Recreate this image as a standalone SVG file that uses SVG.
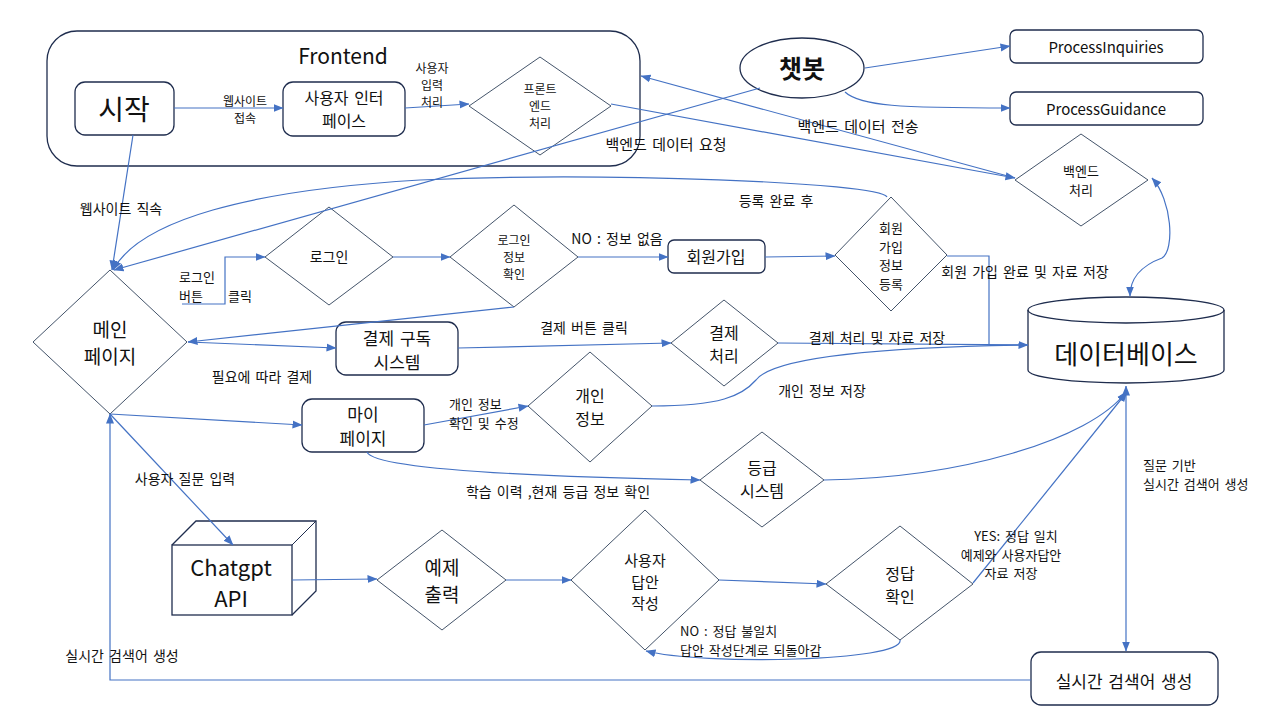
<svg xmlns="http://www.w3.org/2000/svg" width="1280" height="720" viewBox="0 0 1280 720">
<defs>
<marker id="a" viewBox="0 0 10 10" refX="9.5" refY="5" markerWidth="10" markerHeight="10" orient="auto-start-reverse" markerUnits="userSpaceOnUse"><path d="M0,1 L10,5 L0,9z" fill="#4472C4"/></marker>
</defs>
<style>
text{font-family:"Noto Sans CJK KR","Noto Sans",sans-serif;fill:#111;text-anchor:middle;dominant-baseline:central}
.box{fill:#fff;stroke:#1F2D4E;stroke-width:1.3}
.dia{fill:#fff;stroke:#44546A;stroke-width:1}
.c{fill:none;stroke:#4472C4;stroke-width:1.2}
.ar{marker-end:url(#a)}
.l{font-size:14px;word-spacing:2px}
.m{font-size:13px;word-spacing:2px}
.s{font-size:13px}
.t{font-size:12px}
.lt{text-anchor:start}
</style>
<rect width="1280" height="720" fill="#fff"/>

<g id="frontend">
<rect class="box" x="47" y="31" width="593" height="135" rx="30"/>
<text x="343" y="55" font-size="21">Frontend</text>
</g>
<g id="start"><rect class="box" x="75" y="82" width="99" height="53" rx="10"/><text x="124" y="108" font-size="28">시작</text></g>
<g id="ui"><rect class="box" x="283" y="82" width="122" height="54" rx="10"/><text x="344" y="97" font-size="16" word-spacing="2"><tspan x="344" dy="0">사용자 인터</tspan><tspan x="344" dy="23">페이스</tspan></text></g>
<g id="fe"><polygon class="dia" points="540,57 611,106 540,155 469,106"/><text class="t" x="540" y="88"><tspan x="540" dy="0">프론트</tspan><tspan x="540" dy="17">엔드</tspan><tspan x="540" dy="17">처리</tspan></text></g>
<g id="chatbot"><ellipse class="box" cx="802" cy="68" rx="62" ry="30"/><text x="802" y="67" font-size="25" font-weight="bold">챗봇</text></g>
<g id="pi"><rect class="box" x="1010" y="30" width="193" height="33" rx="6"/><text x="1106" y="46" font-size="15">ProcessInquiries</text></g>
<g id="pg"><rect class="box" x="1010" y="92" width="193" height="33" rx="6"/><text x="1106" y="108" font-size="15">ProcessGuidance</text></g>
<g id="be"><polygon class="dia" points="1081,134 1148,180 1081,226 1015,180"/><text class="s" x="1081" y="170"><tspan x="1081" dy="0">백엔드</tspan><tspan x="1081" dy="19">처리</tspan></text></g>
<g id="main"><polygon class="dia" points="110,270 187,342 110,414 33,342"/><text x="110" y="328" font-size="19"><tspan x="110" dy="0">메인</tspan><tspan x="110" dy="27">페이지</tspan></text></g>
<g id="login"><polygon class="dia" points="329,207 393,257 329,305 265,257"/><text class="l" x="329" y="256">로그인</text></g>
<g id="logincheck"><polygon class="dia" points="514,205 578,257 514,307 450,257"/><text class="t" x="514" y="239"><tspan x="514" dy="0">로그인</tspan><tspan x="514" dy="17">정보</tspan><tspan x="514" dy="17">확인</tspan></text></g>
<g id="signup"><rect class="box" x="668" y="240" width="97" height="33" rx="6"/><text x="716" y="256" font-size="16">회원가입</text></g>
<g id="reg"><polygon class="dia" points="891,197 947,255 891,311 835,255"/><text class="s" x="891" y="227"><tspan x="891" dy="0">회원</tspan><tspan x="891" dy="18.5">가입</tspan><tspan x="891" dy="18.5">정보</tspan><tspan x="891" dy="18.5">등록</tspan></text></g>
<g id="db"><path class="box" d="M1028,310 A98,13 0 0 1 1224,310 L1224,370 A98,13 0 0 1 1028,370 Z"/><path fill="none" stroke="#1F2D4E" stroke-width="1.3" d="M1028,310 A98,13 0 0 0 1224,310"/><text x="1126" y="352" font-size="26">데이터베이스</text></g>
<g id="sub"><rect class="box" x="336" y="322" width="122" height="53" rx="10"/><text x="397" y="337" font-size="17" word-spacing="2"><tspan x="397" dy="0">결제 구독</tspan><tspan x="397" dy="24">시스템</tspan></text></g>
<g id="pay"><polygon class="dia" points="724,300 778,343 724,386 671,343"/><text x="724" y="332" font-size="16"><tspan x="724" dy="0">결제</tspan><tspan x="724" dy="23">처리</tspan></text></g>
<g id="mypage"><rect class="box" x="302" y="399" width="122" height="53" rx="10"/><text x="363" y="413" font-size="17"><tspan x="363" dy="0">마이</tspan><tspan x="363" dy="24">페이지</tspan></text></g>
<g id="personal"><polygon class="dia" points="590,352 652,406 590,462 528,406"/><text x="590" y="395" font-size="16"><tspan x="590" dy="0">개인</tspan><tspan x="590" dy="23">정보</tspan></text></g>
<g id="grade"><polygon class="dia" points="762,432 824,480 762,527 700,480"/><text x="762" y="467" font-size="16"><tspan x="762" dy="0">등급</tspan><tspan x="762" dy="23">시스템</tspan></text></g>
<g id="gpt"><path class="box" d="M172,545 L196,521 L316,521 L316,591 L292,615"/><path fill="none" stroke="#1F2D4E" stroke-width="1" d="M292,545 L316,521"/><rect class="box" x="172" y="545" width="120" height="70"/><text x="231" y="566" font-size="22"><tspan x="231" dy="0">Chatgpt</tspan><tspan x="231" dy="31">API</tspan></text></g>
<g id="example"><polygon class="dia" points="442,530 506,580 442,630 377,580"/><text x="442" y="566" font-size="19"><tspan x="442" dy="0">예제</tspan><tspan x="442" dy="27">출력</tspan></text></g>
<g id="answer"><polygon class="dia" points="645,510 719,580 645,650 571,580"/><text x="645" y="559" font-size="15"><tspan x="645" dy="0">사용자</tspan><tspan x="645" dy="21.5">답안</tspan><tspan x="645" dy="21.5">작성</tspan></text></g>
<g id="check"><polygon class="dia" points="900,526 973,584 900,640 826,584"/><text x="900" y="573" font-size="16"><tspan x="900" dy="0">정답</tspan><tspan x="900" dy="23">확인</tspan></text></g>
<g id="rt"><rect class="box" x="1031" y="652" width="187" height="53" rx="10"/><text x="1124" y="680" font-size="17" word-spacing="2">실시간 검색어 생성</text></g>

<g id="connectors">
<path class="c ar" d="M174,108 L283,108"/>
<path class="c ar" d="M405,108 L469,104"/>
<path class="c ar" d="M133,135 L112,270"/>
<path class="c ar" d="M611,104 L1015,178"/>
<path class="c ar" d="M1015,178 L641,76"/>
<path class="c ar" d="M760,88 L114,270"/>
<path class="c ar" d="M865,68 L1010,46"/>
<path class="c ar" d="M845,92 C860,106 900,108 1010,108"/>
<path class="c" d="M1152,178 C1172,200 1175,250 1162,258 C1140,266 1130,280 1130,296" marker-start="url(#a)" marker-end="url(#a)"/>
<path class="c ar" d="M887,197 C880,182 600,172 420,180 C250,190 140,220 113,270"/>
<path class="c ar" d="M182,304 L225,304 L225,257 L265,257"/>
<path class="c ar" d="M393,257 L450,257"/>
<path class="c ar" d="M514,307 L188,342"/>
<path class="c ar" d="M578,257 L668,257"/>
<path class="c ar" d="M765,257 L835,256"/>
<path class="c" d="M947,256 L989,256 L989,345"/>
<path class="c ar" d="M188,342 L336,348"/>
<path class="c ar" d="M458,348 L671,343"/>
<path class="c ar" d="M778,343 L1028,345"/>
<path class="c" d="M652,406 C720,406 742,396 756,380 C775,355 900,347 1028,345"/>
<path class="c ar" d="M110,414 L302,425"/>
<path class="c ar" d="M424,425 L528,406"/>
<path class="c ar" d="M367,452 C375,472 600,478 700,480"/>
<path class="c ar" d="M824,480 C960,478 1090,440 1126,392"/>
<path class="c ar" d="M110,414 L233,545"/>
<path class="c ar" d="M292,580 L377,579"/>
<path class="c ar" d="M506,580 L571,580"/>
<path class="c ar" d="M719,580 L826,584"/>
<path class="c ar" d="M973,583 L1127,392"/>
<path class="c ar" d="M900,640 C905,662 700,665 646,651"/>
<path class="c" d="M1126,386 L1126,651" marker-start="url(#a)" marker-end="url(#a)"/>
<path class="c ar" d="M1031,680 L110,680 L110,414"/>
</g>

<g id="labels">
<text class="t" x="245" y="100"><tspan x="245" dy="0">웹사이트</tspan><tspan x="245" dy="17">접속</tspan></text>
<text class="t" x="432" y="67"><tspan x="432" dy="0">사용자</tspan><tspan x="432" dy="17">입력</tspan><tspan x="432" dy="17">처리</tspan></text>
<text x="858" y="125" font-size="15" word-spacing="2">백엔드 데이터 전송</text>
<text x="666" y="143" font-size="15" word-spacing="2">백엔드 데이터 요청</text>
<text class="l" x="121" y="208">웹사이트 직속</text>
<text class="l" x="776" y="200">등록 완료 후</text>
<text class="m lt" x="179" y="276"><tspan x="179" dy="0">로그인</tspan><tspan x="179" dy="19">버튼</tspan></text>
<text class="m lt" x="228" y="295">클릭</text>
<text class="l" x="617" y="238">NO : 정보 없음</text>
<text class="l" x="1025" y="271">회원 가입 완료 및 자료 저장</text>
<text class="l" x="584" y="327">결제 버튼 클릭</text>
<text class="l" x="877" y="337">결제 처리 및 자료 저장</text>
<text class="l" x="262" y="376">필요에 따라 결제</text>
<text class="l" x="822" y="390">개인 정보 저장</text>
<text class="m lt" x="449" y="403"><tspan x="449" dy="0">개인 정보</tspan><tspan x="449" dy="19">확인 및 수정</tspan></text>
<text class="l" x="558" y="491">학습 이력 ,현재 등급 정보 확인</text>
<text class="l" x="185" y="478">사용자 질문 입력</text>
<text class="m lt" x="1143" y="464"><tspan x="1143" dy="0">질문 기반</tspan><tspan x="1143" dy="18.5">실시간 검색어 생성</tspan></text>
<text class="m" x="1016" y="535"><tspan x="1016" dy="0">YES: 정답 일치</tspan><tspan x="1011" dy="18.5">예제와 사용자답안</tspan><tspan x="1011" dy="18.5">자료 저장</tspan></text>
<text class="m lt" x="680" y="630"><tspan x="680" dy="0">NO : 정답 불일치</tspan><tspan x="680" dy="18.5">답안 작성단계로 되돌아감</tspan></text>
<text class="l" x="122" y="655">실시간 검색어 생성</text>
</g>
</svg>
